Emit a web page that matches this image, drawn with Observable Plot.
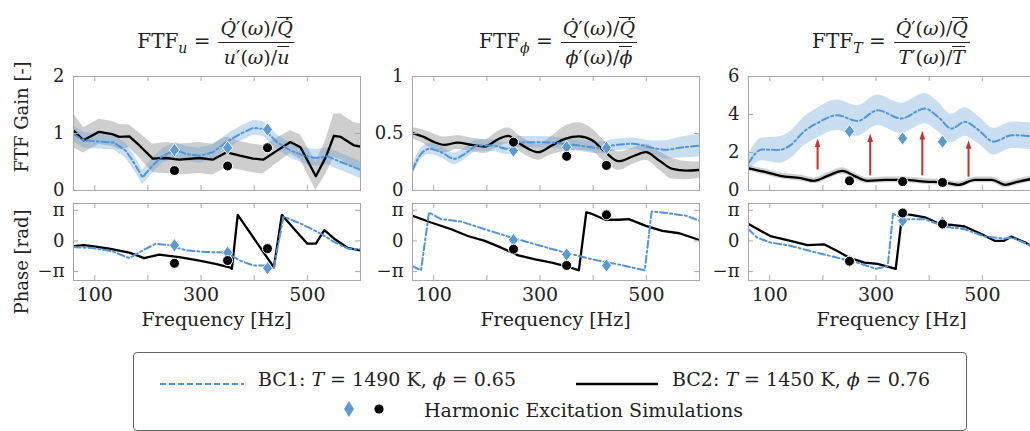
<!DOCTYPE html>
<html>
<head>
<meta charset="utf-8">
<script src="https://cdn.jsdelivr.net/npm/d3@7"></script>
<script src="https://cdn.jsdelivr.net/npm/@observablehq/plot@0.6"></script>
<style>
  html, body { margin: 0; padding: 0; background: #fff; }
  #wrap { position: relative; width: 1030px; height: 431px; overflow: hidden; font-family: "DejaVu Serif", serif; color: #222; }
  .title { position: absolute; top: 17px; transform: translateX(-50%); white-space: nowrap; font-size: 20px; display: flex; align-items: center; }
  .frac { display: inline-flex; flex-direction: column; align-items: center; margin-left: 8px; font-size: 19px; line-height: 1.15; }
  .frac .num { padding: 0 2px 2px 2px; border-bottom: 1.3px solid #222; }
  .frac .den { padding: 3px 2px 0 2px; }
  .ov { display: inline-block; border-top: 1.2px solid #222; line-height: 1.05; padding-top: 1px; }
  sub { font-size: 14px; }
  .ylab { position: absolute; font-size: 18px; transform: translate(-50%, -50%) rotate(-90deg); white-space: nowrap; }
  .xlab { position: absolute; font-size: 19px; transform: translate(-50%, -50%); white-space: nowrap; }
  #legend { position: absolute; left: 133px; top: 352px; width: 832px; height: 77px; border: 1px solid #666; border-radius: 4px; font-size: 19px; }
  #legend .item { position: absolute; white-space: nowrap; transform: translateY(-50%); }
</style>
</head>
<body>
<div id="wrap"></div>
<script>
// ---------------- data ----------------
const xTicks = [100, 200, 300, 400, 500, 600];
const xLabelTicks = [100, 300, 500];
const harmonicFreq = [250, 350, 425];

// Panel u : gain
const u_bc1_f   = [60,79,108,136,158,171,190,209,228,253,272,297,322,348,373,398,417,443,468,494,516,538,563,600];
const u_bc1_g   = [0.99,0.88,0.86,0.84,0.70,0.53,0.23,0.44,0.61,0.71,0.64,0.61,0.67,0.85,0.99,1.10,1.08,0.85,0.70,0.61,0.57,0.60,0.50,0.36];
const u_bc1_sd  = [0.14,0.14,0.13,0.13,0.13,0.13,0.13,0.13,0.13,0.13,0.13,0.13,0.13,0.13,0.13,0.13,0.13,0.13,0.13,0.14,0.15,0.15,0.15,0.15];
const u_bc2_f   = [60,79,108,133,146,165,184,209,234,259,297,322,348,373,398,417,443,468,487,516,535,550,563,588,600];
const u_bc2_g   = [1.05,0.88,1.03,0.99,0.94,0.95,0.79,0.56,0.57,0.54,0.57,0.54,0.67,0.61,0.56,0.54,0.70,0.85,0.76,0.25,0.59,0.96,0.94,0.79,0.77];
const u_bc2_sd  = [0.30,0.22,0.22,0.22,0.22,0.20,0.22,0.25,0.27,0.27,0.27,0.27,0.27,0.25,0.25,0.25,0.22,0.20,0.22,0.25,0.30,0.38,0.40,0.40,0.40];
const u_bc1_hes = [0.71, 0.75, 1.07];
const u_bc2_hes = [0.35, 0.43, 0.75];
// Panel u : phase (in units of pi)
const u_bc1_pf  = [60,95,133,165,190,215,240,272,310,348,373,398,423,437,455,487,525,550,576,600];
const u_bc1_p   = [-0.20,-0.23,-0.34,-0.56,-0.31,-0.09,-0.14,-0.31,-0.36,-0.38,-0.64,-0.80,-0.80,-0.86,0.79,0.57,0.24,-0.03,-0.25,-0.27];
const u_bc2_pf  = [60,79,95,127,165,193,221,259,297,327,354,358,369,437,452,474,500,516,532,550,576,600];
const u_bc2_p   = [-0.17,-0.14,-0.17,-0.25,-0.38,-0.56,-0.45,-0.53,-0.64,-0.75,-0.86,-0.91,0.85,-0.86,0.85,0.41,-0.09,-0.09,0.35,0.08,-0.23,-0.31];
const u_bc1_hesp = [-0.14, -0.38, -0.89];
const u_bc2_hesp = [-0.73, -0.64, -0.25];

// Panel phi : gain
const phi_bc1_f  = [60,76,92,114,139,158,183,209,240,259,297,335,373,410,436,474,511,537,562,600];
const phi_bc1_g  = [0.18,0.32,0.365,0.336,0.278,0.32,0.395,0.395,0.365,0.424,0.424,0.415,0.395,0.374,0.395,0.41,0.374,0.357,0.374,0.395];
const phi_bc1_sd = [0.05,0.05,0.05,0.05,0.05,0.05,0.05,0.05,0.05,0.05,0.05,0.05,0.05,0.05,0.05,0.05,0.06,0.08,0.09,0.10];
const phi_bc2_f  = [60,82,101,120,145,171,196,221,240,259,278,297,322,347,373,398,423,448,474,499,524,549,575,600];
const phi_bc2_g  = [0.503,0.468,0.424,0.40,0.42,0.40,0.386,0.45,0.48,0.42,0.365,0.336,0.395,0.453,0.474,0.44,0.336,0.257,0.298,0.336,0.263,0.19,0.175,0.18];
const phi_bc2_sd = [0.05,0.06,0.07,0.07,0.06,0.06,0.06,0.07,0.07,0.07,0.07,0.07,0.08,0.11,0.12,0.10,0.09,0.08,0.07,0.07,0.08,0.09,0.08,0.07];
const phi_bc1_hes = [0.35, 0.38, 0.374];
const phi_bc2_hes = [0.424, 0.30, 0.22];
// Panel phi : phase
const phi_bc1_pf = [60,76,91,114,152,196,246,297,347,398,448,497,510,530,575,600];
const phi_bc1_p  = [-0.82,-0.96,0.93,0.71,0.63,0.38,0.11,-0.14,-0.38,-0.60,-0.77,-0.96,0.96,0.93,0.82,0.66];
const phi_bc2_pf = [60,95,133,164,196,227,259,291,322,354,373,387,398,423,448,467,499,530,562,600];
const phi_bc2_p  = [0.82,0.60,0.38,0.16,0,-0.22,-0.47,-0.60,-0.71,-0.85,-0.96,0.93,0.88,0.69,0.69,0.71,0.49,0.33,0.25,0.03];
const phi_bc1_hesp = [0.03, -0.44, -0.80];
const phi_bc2_hesp = [-0.27, -0.80, 0.85];

// Panel T : gain
const T_bc1_f  = [60,85,117,139,164,190,227,265,303,347,392,417,442,467,493,521,556,600];
const T_bc1_g  = [1.43,2.16,2.13,2.39,3.09,3.56,3.96,3.66,4.22,3.79,4.31,3.87,3.26,3.61,3.18,2.57,2.91,2.83];
const T_bc1_sd = [0.45,0.6,0.7,0.72,0.75,0.78,0.8,0.8,0.8,0.8,0.8,0.78,0.75,0.75,0.72,0.7,0.7,0.7];
const T_bc2_f  = [60,89,120,158,183,209,237,259,284,316,354,392,429,455,486,518,543,568,600];
const T_bc2_g  = [1.17,0.99,0.77,0.65,0.51,0.77,1.03,0.77,0.51,0.56,0.56,0.47,0.42,0.30,0.56,0.56,0.30,0.47,0.65];
const T_bc2_sd = [0.15,0.15,0.15,0.15,0.15,0.16,0.17,0.16,0.15,0.15,0.15,0.15,0.15,0.15,0.15,0.15,0.15,0.15,0.15];
const T_bc1_hes = [3.12, 2.74, 2.57];
const T_bc2_hes = [0.51, 0.47, 0.42];
const T_arrow_f  = [190, 289, 387, 474];
const T_arrow_y1 = [1.08, 0.77, 0.77, 0.70];
const T_arrow_y2 = [2.74, 3.00, 3.14, 2.65];
// Panel T : phase
const T_bc1_pf = [60,76,101,139,202,265,300,322,332,354,392,429,467,505,543,556,600];
const T_bc1_p  = [0.38,0.11,-0.05,-0.16,-0.44,-0.71,-0.91,-0.82,0.88,0.71,0.71,0.47,0.38,0.14,0.08,0.11,-0.22];
const T_bc2_pf = [60,101,139,171,202,227,250,278,303,337,347,351,366,392,420,442,467,499,524,540,554,581,600];
const T_bc2_p  = [0.55,0.16,0,-0.14,-0.11,-0.33,-0.55,-0.71,-0.75,-0.91,0.55,0.88,0.85,0.77,0.55,0.52,0.47,0.22,0,0,0.14,-0.05,-0.25];
const T_bc1_hesp = [-0.66, 0.66, 0.60];
const T_bc2_hesp = [-0.66, 0.91, 0.55];

// ---------------- style ----------------
const BLUE = "#4f94dc", BLUE_FILL = "#5b9bd5", GRAY_FILL = "#9e9e9e", RED = "#c9302c", FRAME = "#a8a8a8";
const DASHDOT = "7,3,2,3";
const FONT = "'DejaVu Serif', serif";

const zipSeries = (f, v, sd) => f.map((x, i) => ({f: x, v: v[i], lo: v[i] - sd[i], hi: v[i] + sd[i]}));
const zipPhase = (f, p) => f.map((x, i) => ({f: x, v: p[i] * Math.PI}));
const zipH = (v, scale = 1) => harmonicFreq.map((x, i) => ({f: x, v: v[i] * scale}));

const arrowHead = { draw(ctx, size) { const s = Math.sqrt(size) / 2; ctx.moveTo(0, 0); ctx.lineTo(-s * 0.75, s * 2.3); ctx.lineTo(s * 0.75, s * 2.3); ctx.closePath(); } };
const wideDiamond = { draw(ctx, size) { const s = Math.sqrt(size); const h = s * 0.95, w = s * 0.72; ctx.moveTo(0, -h); ctx.lineTo(w, 0); ctx.lineTo(0, h); ctx.lineTo(-w, 0); ctx.closePath(); } };

const ML = 50, MR = 6, MT = 4, FW = 287;
const DIAMOND_R = 4, CIRCLE_R = 5;

function frameMarks(innerW, innerH, yTicks) {
  return [
    Plot.tickX(xTicks, {x: d => d, stroke: FRAME, insetTop: innerH - 5}),
    Plot.tickX(xTicks, {x: d => d, stroke: FRAME, insetBottom: innerH - 5}),
    Plot.tickY(yTicks, {y: d => d, stroke: FRAME, insetRight: innerW - 5}),
    Plot.tickY(yTicks, {y: d => d, stroke: FRAME, insetLeft: innerW - 5}),
    Plot.frame({stroke: FRAME, strokeWidth: 1})
  ];
}

function harmonicMarks(h1, h2, scale) {
  return [
    Plot.dot(zipH(h1, scale), {x: "f", y: "v", symbol: wideDiamond, r: DIAMOND_R, fill: BLUE_FILL, stroke: "#fff", strokeWidth: 1}),
    Plot.dot(zipH(h2, scale), {x: "f", y: "v", r: CIRCLE_R, fill: "#000", stroke: "#fff", strokeWidth: 1})
  ];
}

function gainPlot(o) {
  const H = 114, MB = 4;
  const bc1 = zipSeries(o.f1, o.g1, o.sd1), bc2 = zipSeries(o.f2, o.g2, o.sd2);
  const curve = o.curve || "linear";
  const marks = [
    Plot.areaY(bc2, {x: "f", y1: "lo", y2: "hi", fill: GRAY_FILL, fillOpacity: 0.5, curve}),
    Plot.areaY(bc1, {x: "f", y1: "lo", y2: "hi", fill: BLUE_FILL, fillOpacity: 0.33, curve}),
    Plot.line(bc2, {x: "f", y: "v", stroke: "#000", strokeWidth: 2.3, curve}),
    Plot.line(bc1, {x: "f", y: "v", stroke: BLUE, strokeWidth: 2, strokeDasharray: DASHDOT, curve}),
  ];
  if (o.arrows) {
    const a = o.arrows.f.map((x, i) => ({f: x, y1: o.arrows.y1[i], y2: o.arrows.y2[i]}));
    marks.push(Plot.ruleX(a, {x: "f", y1: "y1", y2: d => d.y2 - 0.35, stroke: RED, strokeWidth: 2}));
    marks.push(Plot.dot(a, {x: "f", y: "y2", symbol: arrowHead, r: 4.2, fill: RED, stroke: "none"}));
  }
  marks.push(
    ...harmonicMarks(o.h1, o.h2, 1),
    ...frameMarks(FW, H, o.yTicks),
    Plot.axisY({ticks: o.yTicks, label: null, tickSize: 0, tickPadding: 9, fontSize: 18, fill: "#222", tickFormat: d => String(d)})
  );
  return Plot.plot({
    width: ML + FW + MR, height: MT + H + MB,
    marginLeft: ML, marginRight: MR, marginTop: MT, marginBottom: MB,
    style: {fontFamily: FONT, fontSize: "18px", background: "transparent", overflow: "visible"},
    x: {domain: [60, 600], axis: null},
    y: {domain: o.yDomain, axis: null},
    clip: true,
    marks
  });
}

function phasePlot(o) {
  const H = 77, MB = 32;
  const bc1 = zipPhase(o.f1, o.p1), bc2 = zipPhase(o.f2, o.p2);
  const yT = [-Math.PI, 0, Math.PI];
  return Plot.plot({
    width: ML + FW + MR, height: MT + H + MB,
    marginLeft: ML, marginRight: MR, marginTop: MT, marginBottom: MB,
    style: {fontFamily: FONT, fontSize: "18px", background: "transparent", overflow: "visible"},
    x: {domain: [60, 600], axis: null},
    y: {domain: [-1.29 * Math.PI, 1.22 * Math.PI], axis: null},
    clip: true,
    marks: [
      Plot.line(bc2, {x: "f", y: "v", stroke: "#000", strokeWidth: 2.3}),
      Plot.line(bc1, {x: "f", y: "v", stroke: BLUE, strokeWidth: 2, strokeDasharray: DASHDOT}),
      ...harmonicMarks(o.h1, o.h2, Math.PI),
      ...frameMarks(FW, H, yT),
      Plot.axisY({ticks: yT, label: null, tickSize: 0, tickPadding: 9, fontSize: 18, fill: "#222",
        tickFormat: d => d > 0.1 ? "π" : d < -0.1 ? "−π" : "0"}),
      Plot.axisX({ticks: xLabelTicks, label: null, tickSize: 0, tickPadding: 7, fontSize: 19, fill: "#222", tickFormat: d => String(d)})
    ]
  });
}

// ---------------- layout ----------------
const wrap = document.getElementById("wrap");
const panelLeft = [73, 412, 748];
const gainTop = 76, phaseTop = 203;

const panels = [
  {g: {f1: u_bc1_f, g1: u_bc1_g, sd1: u_bc1_sd, f2: u_bc2_f, g2: u_bc2_g, sd2: u_bc2_sd, h1: u_bc1_hes, h2: u_bc2_hes, yDomain: [0, 2], yTicks: [0, 1, 2]},
   p: {f1: u_bc1_pf, p1: u_bc1_p, f2: u_bc2_pf, p2: u_bc2_p, h1: u_bc1_hesp, h2: u_bc2_hesp}},
  {g: {f1: phi_bc1_f, g1: phi_bc1_g, sd1: phi_bc1_sd, f2: phi_bc2_f, g2: phi_bc2_g, sd2: phi_bc2_sd, h1: phi_bc1_hes, h2: phi_bc2_hes, yDomain: [0, 1], yTicks: [0, 0.5, 1], curve: "monotone-x"},
   p: {f1: phi_bc1_pf, p1: phi_bc1_p, f2: phi_bc2_pf, p2: phi_bc2_p, h1: phi_bc1_hesp, h2: phi_bc2_hesp}},
  {g: {f1: T_bc1_f, g1: T_bc1_g, sd1: T_bc1_sd, f2: T_bc2_f, g2: T_bc2_g, sd2: T_bc2_sd, h1: T_bc1_hes, h2: T_bc2_hes, yDomain: [0, 6], yTicks: [0, 2, 4, 6], curve: "monotone-x",
       arrows: {f: T_arrow_f, y1: T_arrow_y1, y2: T_arrow_y2}},
   p: {f1: T_bc1_pf, p1: T_bc1_p, f2: T_bc2_pf, p2: T_bc2_p, h1: T_bc1_hesp, h2: T_bc2_hesp}}
];

panels.forEach((pn, i) => {
  const g = gainPlot(pn.g);
  g.style.position = "absolute"; g.style.left = (panelLeft[i] - ML) + "px"; g.style.top = (gainTop - MT) + "px";
  wrap.appendChild(g);
  const p = phasePlot(pn.p);
  p.style.position = "absolute"; p.style.left = (panelLeft[i] - ML) + "px"; p.style.top = (phaseTop - MT) + "px";
  wrap.appendChild(p);
  const xl = document.createElement("div");
  xl.className = "xlab"; xl.textContent = "Frequency [Hz]";
  xl.style.left = (panelLeft[i] + FW / 2) + "px"; xl.style.top = "319px";
  wrap.appendChild(xl);
});

// titles
const titles = [
  {cx: 216, sub: "<i>u</i>", den: "<i>u</i>′(<i>ω</i>)/<span class='ov'><i>u</i></span>"},
  {cx: 558, sub: "<i>ϕ</i>", den: "<i>ϕ</i>′(<i>ω</i>)/<span class='ov'><i>ϕ</i></span>"},
  {cx: 891, sub: "<i>T</i>", den: "<i>T</i>′(<i>ω</i>)/<span class='ov'><i>T</i></span>"}
];
titles.forEach(t => {
  const d = document.createElement("div");
  d.className = "title";
  d.style.left = t.cx + "px";
  d.innerHTML = `<span>FTF<sub>${t.sub}</sub> =</span><span class="frac"><span class="num"><i>Q̇</i>′(<i>ω</i>)/<span class="ov"><i>Q̇</i></span></span><span class="den">${t.den}</span></span>`;
  wrap.appendChild(d);
});

// y labels
[["FTF Gain [-]", 117], ["Phase [rad]", 262]].forEach(([txt, cy]) => {
  const d = document.createElement("div");
  d.className = "ylab"; d.textContent = txt;
  d.style.left = "21px"; d.style.top = cy + "px";
  wrap.appendChild(d);
});

// legend
const lg = document.createElement("div");
lg.id = "legend";
lg.innerHTML = `
  <div class="item" style="left:25px; top:27px;"><svg width="86" height="6"><line x1="1" y1="3" x2="85" y2="3" stroke="${BLUE}" stroke-width="2.2" stroke-dasharray="6,3"/></svg></div>
  <div class="item" style="left:124px; top:26px;">BC1: <i>T</i> = 1490 K, <i>ϕ</i> = 0.65</div>
  <div class="item" style="left:441px; top:27px;"><svg width="84" height="6"><line x1="1" y1="3" x2="83" y2="3" stroke="#000" stroke-width="2.6"/></svg></div>
  <div class="item" style="left:538px; top:26px;">BC2: <i>T</i> = 1450 K, <i>ϕ</i> = 0.76</div>
  <div class="item" style="left:206px; top:58px;"><svg width="44" height="20"><path d="M9,2 L14,10 L9,18 L4,10 Z" fill="${BLUE_FILL}"/><circle cx="39" cy="10" r="4.6" fill="#000"/></svg></div>
  <div class="item" style="left:290px; top:57px;">Harmonic Excitation Simulations</div>`;
wrap.appendChild(lg);
</script>
</body>
</html>
